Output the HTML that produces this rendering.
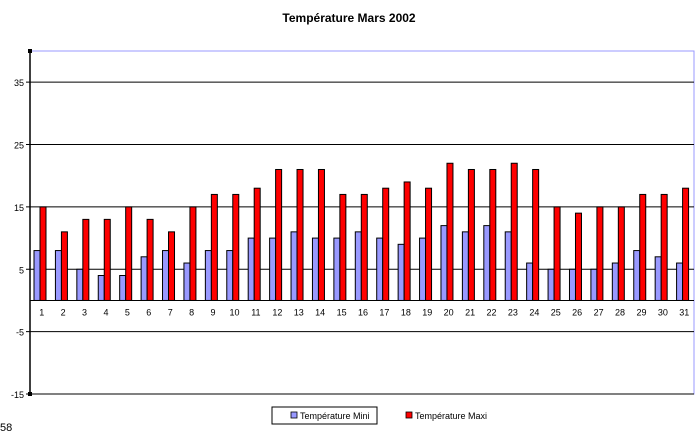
<!DOCTYPE html>
<html><head><meta charset="utf-8"><style>
body{margin:0;background:#fff;font-family:"Liberation Sans",sans-serif}
svg{display:block}
</style></head><body>
<svg width="699" height="431" id="c">
<text x="349" y="22" text-anchor="middle" font-size="12" font-weight="bold">Température Mars 2002</text>
<text x="0" y="431" font-size="11">58</text>
<g id="plot"></g>
<g>
<rect x="272" y="407" width="105" height="17" fill="#fff" stroke="#000"/>
<rect x="291" y="412" width="6" height="6" fill="#9999ff" stroke="#000" stroke-width="0.8"/>
<text x="300" y="419" font-size="9">Température Mini</text>
<rect x="406" y="412" width="6" height="6" fill="#ff0000" stroke="#000" stroke-width="0.8"/>
<text x="415" y="419" font-size="9">Température Maxi</text>
</g>
</svg>
<script>
const days=[1,2,3,4,5,6,7,8,9,10,11,12,13,14,15,16,17,18,19,20,21,22,23,24,25,26,27,28,29,30,31];
const mini=[8,8,5,4,4,7,8,6,8,8,10,10,11,10,10,11,10,9,10,12,11,12,11,6,5,5,5,6,8,7,6];
const maxi=[15,11,13,13,15,13,11,15,17,17,18,21,21,21,17,17,18,19,18,22,21,21,22,21,15,14,15,15,17,17,18];
const yTicks=[-15,-5,5,15,25,35];
const L=30,R=694,T=51,B=394,yMin=-15,yMax=40;
const NS='http://www.w3.org/2000/svg';
const g=document.getElementById('plot');
const y=v=>B-(v-yMin)/(yMax-yMin)*(B-T);
const bw=(R-L)/days.length;
const x=i=>L+i*bw;
function mk(t,a){const e=document.createElementNS(NS,t);for(const k in a)e.setAttribute(k,a[k]);g.appendChild(e);return e;}
const frame=mk('rect',{x:L,y:T,width:R-L,height:B-T,fill:'none',stroke:'#9999ff','stroke-width':1});


yTicks.forEach(v=>{
 const ln=mk('line',{x1:L-4,x2:R,y1:y(v),y2:y(v),stroke:'#000','stroke-width':1});
 
 
 const t=mk('text',{x:L-6,y:y(v)+4,'text-anchor':'end','font-size':9});
 t.textContent=v;
 
 
});
days.forEach((d,i)=>{
 const x0=x(i)+4;
 const a=mk('rect',{x:x0,y:y(mini[i]),width:6,height:y(0)-y(mini[i]),fill:'#9999ff',stroke:'#000','stroke-width':1});
 
 
 const b=mk('rect',{x:x0+6,y:y(maxi[i]),width:6,height:y(0)-y(maxi[i]),fill:'#ff0000',stroke:'#000','stroke-width':1});
 
 
 const t=mk('text',{x:x(i)+bw/2+1,y:y(0)+15,'text-anchor':'middle','font-size':9});
 t.textContent=d;
 
 
});
const ax=mk('line',{x1:L,x2:R,y1:y(0),y2:y(0),stroke:'#000','stroke-width':1});


const ay=mk('line',{x1:L,x2:L,y1:T,y2:B,stroke:'#000','stroke-width':1.5});


[T,B].forEach(v=>{const s=mk('rect',{x:L-2,y:v-2,width:4,height:4,fill:'#000'});
 
 });
</script>
</body></html>
